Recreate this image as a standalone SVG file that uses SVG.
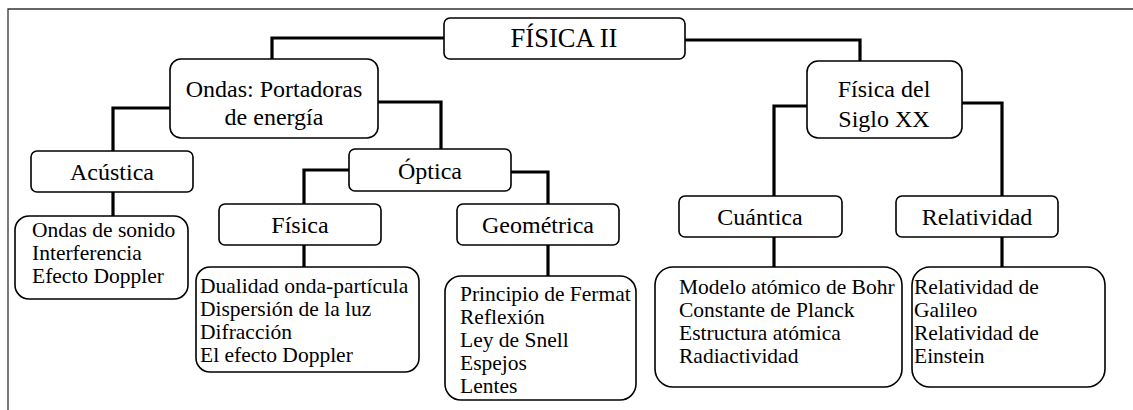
<svg xmlns="http://www.w3.org/2000/svg" width="1133" height="410" viewBox="0 0 1133 410">
<style>
.box{fill:#fff;stroke:#000;stroke-width:1.6}
.conn{fill:none;stroke:#000;stroke-width:3.2}
.frame{fill:none;stroke:#333;stroke-width:1.3}
text{font-family:'Liberation Serif','Times New Roman',serif;fill:#000}
.t{font-size:24px;text-anchor:middle}
.m{font-size:26.5px;text-anchor:middle}
.l{font-size:21.5px}
</style>
<rect width="1133" height="410" fill="#fff"/>
<path class="frame" d="M8,410 V9 H1133"/>
<g id="connectors">
<path class="conn" d="M444,38 H272 V59"/>
<path class="conn" d="M685,40 H860 V61"/>
<path class="conn" d="M170,108 H113 V151"/>
<path class="conn" d="M378,102 H441 V149"/>
<path class="conn" d="M113,192 V216"/>
<path class="conn" d="M349,170 H304 V204"/>
<path class="conn" d="M304,245 V267"/>
<path class="conn" d="M511,172 H548 V204"/>
<path class="conn" d="M548,245 V276"/>
<path class="conn" d="M807,106 H774 V196"/>
<path class="conn" d="M774,237 V267"/>
<path class="conn" d="M962,103 H1002 V196"/>
<path class="conn" d="M1002,237 V267"/>
</g>
<g id="fisica2">
<rect class="box" x="444" y="18" width="241" height="41" rx="6"/>
<text class="m" x="564" y="47">FÍSICA II</text>
</g>
<g id="ondas">
<rect class="box" x="170" y="59" width="208" height="79" rx="11"/>
<text class="t" x="274" y="97">Ondas: Portadoras</text>
<text class="t" x="274" y="125">de energía</text>
</g>
<g id="sigloxx">
<rect class="box" x="807" y="61" width="155" height="77" rx="11"/>
<text class="t" x="884" y="97">Física del</text>
<text class="t" x="884" y="127">Siglo XX</text>
</g>
<g id="acustica">
<rect class="box" x="31" y="151" width="162" height="41" rx="6"/>
<text class="t" x="112" y="180">Acústica</text>
</g>
<g id="acustica-list">
<rect class="box" x="15" y="216" width="173" height="83" rx="14"/>
<text class="l" x="32" y="237">Ondas de sonido</text>
<text class="l" x="32" y="260">Interferencia</text>
<text class="l" x="32" y="283">Efecto Doppler</text>
</g>
<g id="optica">
<rect class="box" x="349" y="149" width="162" height="42" rx="6"/>
<text class="t" x="430" y="179">Óptica</text>
</g>
<g id="fisica">
<rect class="box" x="219" y="204" width="162" height="41" rx="6"/>
<text class="t" x="300" y="233">Física</text>
</g>
<g id="fisica-list">
<rect class="box" x="196" y="267" width="223" height="105" rx="14"/>
<text class="l" x="200" y="293">Dualidad onda-partícula</text>
<text class="l" x="200" y="316">Dispersión de la luz</text>
<text class="l" x="200" y="339">Difracción</text>
<text class="l" x="200" y="362">El efecto Doppler</text>
</g>
<g id="geometrica">
<rect class="box" x="457" y="204" width="162" height="41" rx="6"/>
<text class="t" x="538" y="233">Geométrica</text>
</g>
<g id="geometrica-list">
<rect class="box" x="445" y="276" width="191" height="124" rx="16"/>
<text class="l" x="460" y="301">Principio de Fermat</text>
<text class="l" x="460" y="324">Reflexión</text>
<text class="l" x="460" y="347">Ley de Snell</text>
<text class="l" x="460" y="370">Espejos</text>
<text class="l" x="460" y="393">Lentes</text>
</g>
<g id="cuantica">
<rect class="box" x="679" y="196" width="163" height="41" rx="6"/>
<text class="t" x="760" y="225">Cuántica</text>
</g>
<g id="cuantica-list">
<rect class="box" x="655" y="267" width="247" height="120" rx="18"/>
<text class="l" x="679" y="294">Modelo atómico de Bohr</text>
<text class="l" x="679" y="317">Constante de Planck</text>
<text class="l" x="679" y="340">Estructura atómica</text>
<text class="l" x="679" y="363">Radiactividad</text>
</g>
<g id="relatividad">
<rect class="box" x="896" y="196" width="162" height="41" rx="6"/>
<text class="t" x="977" y="225">Relatividad</text>
</g>
<g id="relatividad-list">
<rect class="box" x="912" y="267" width="193" height="120" rx="18"/>
<text class="l" x="914" y="294">Relatividad de</text>
<text class="l" x="914" y="317">Galileo</text>
<text class="l" x="914" y="340">Relatividad de</text>
<text class="l" x="914" y="363">Einstein</text>
</g>
</svg>
